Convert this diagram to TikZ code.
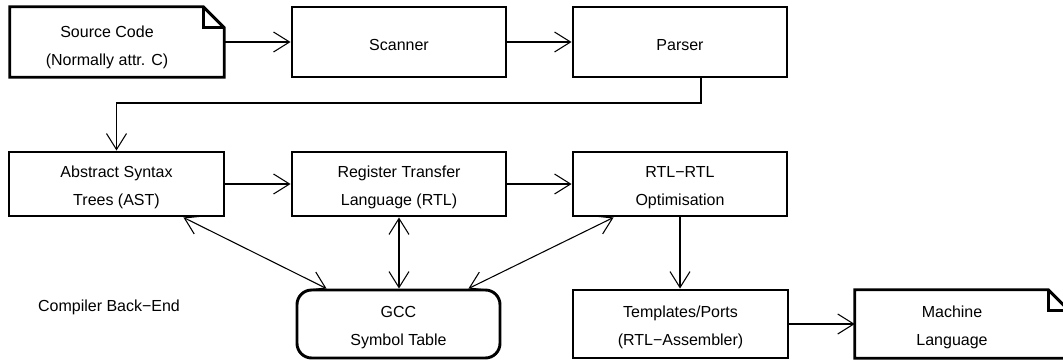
\documentclass[tikz,border=0pt]{standalone}
\usepackage{fontspec}
\setmainfont{Liberation Sans}
\usetikzlibrary{arrows.meta,calc}
\begin{document}
\begin{tikzpicture}[x=0.75pt,y=-0.75pt,
  box/.style={draw=black,line width=2.2pt,minimum height=51pt,inner sep=0pt},
  docbox/.style={draw=none,minimum height=51pt,inner sep=0pt},
  docline/.style={draw=black,line width=2.2pt,line join=miter},
  symbox/.style={draw=black,line width=2.2pt,rounded corners=11pt,inner sep=0pt},
  txt/.style={align=center,font=\fontsize{12}{21}\selectfont,inner sep=0pt},
  conn/.style={draw=black,line width=0.8pt,-{Straight Barb[length=12pt,width=15pt,line width=0.8pt]}},
  dconn/.style={draw=black,line width=0.8pt,{Straight Barb[length=12pt,width=15pt,line width=0.8pt]}-{Straight Barb[length=12pt,width=15pt,line width=0.8pt]}},
  plain/.style={draw=black,line width=0.8pt}
]
\useasboundingbox (0,0) rectangle (1063,361);

% row 1
\node[docbox,minimum width=160.5pt,minimum height=52.5pt] (src) at (117,42) {};
\draw[docline] (src.north west) -- ($(src.north east)+(-21,0)$) -- ($(src.north east)+(0,21)$) -- (src.south east) -- (src.south west) -- cycle;
\draw[docline] ($(src.north east)+(-21,0)$) -- ($(src.north east)+(-21,21)$) -- ($(src.north east)+(0,21)$);
\node[txt] (srct) at (107,47) {Source Code\\(Normally attr. C)};

\node[box,minimum width=160.5pt,minimum height=52.5pt] (scan) at (399,42) {};
\node[txt] (scant) at (399,45) {Scanner};

\node[box,minimum width=160.5pt,minimum height=52.5pt] (pars) at (680,42) {};
\node[txt] (parst) at (680,45) {Parser};

% row 2
\node[box,minimum width=161.25pt,minimum height=48pt] (ast) at (116.5,184) {};
\node[txt] (astt) at (116.5,187.5) {Abstract Syntax\\Trees (AST)};

\node[box,minimum width=160.5pt,minimum height=48pt] (rtl) at (399,184) {};
\node[txt] (rtlt) at (399,187.5) {Register Transfer\\Language (RTL)};

\node[box,minimum width=160.5pt,minimum height=48pt] (opt) at (680,184) {};
\node[txt] (optt) at (680,187.5) {RTL−RTL\\Optimisation};

% row 3
\node[txt] (back) at (109,307) {Compiler Back−End};

\node[symbox,minimum width=152.25pt,minimum height=51pt] (gcc) at (398.5,324) {};
\node[txt] (gcct) at (398.5,327.5) {GCC\\Symbol Table};

\node[box,minimum width=161.25pt,minimum height=51pt] (tmpl) at (680.5,324) {};
\node[txt] (tmplt) at (680.5,327.5) {Templates/Ports\\(RTL−Assembler)};

\node[docbox,minimum width=160.5pt,minimum height=51pt] (mach) at (962,324) {};
\draw[docline] (mach.north west) -- ($(mach.north east)+(-21,0)$) -- ($(mach.north east)+(0,21)$) -- (mach.south east) -- (mach.south west) -- cycle;
\draw[docline] ($(mach.north east)+(-21,0)$) -- ($(mach.north east)+(-21,21)$) -- ($(mach.north east)+(0,21)$);
\node[txt] (macht) at (952,327.5) {Machine\\Language};

% connectors
\coordinate (bend) at (701,103);
\draw[conn] (src.east) -- (scan.west);
\draw[conn] (scan.west -| scan.east) -- (pars.west);
\draw[conn] (pars.south -| bend) -- (bend) -| (ast.north);
\draw[conn] (ast.east) -- (rtl.west);
\draw[conn] (rtl.east) -- (opt.west);
\draw[dconn] ($(ast.south east)+(-42,0)$) -- ($(gcc.north west)+(31,0)$);
\draw[dconn] (rtl.south) -- (rtl.south |- gcc.north);
\draw[dconn] ($(opt.south west)+(42,0)$) -- ($(gcc.north east)+(-33,0)$);
\draw[conn] (opt.south) -- (tmpl.north -| opt.south);
\draw[conn] (tmpl.east) -- (mach.west);
\end{tikzpicture}
\end{document}
